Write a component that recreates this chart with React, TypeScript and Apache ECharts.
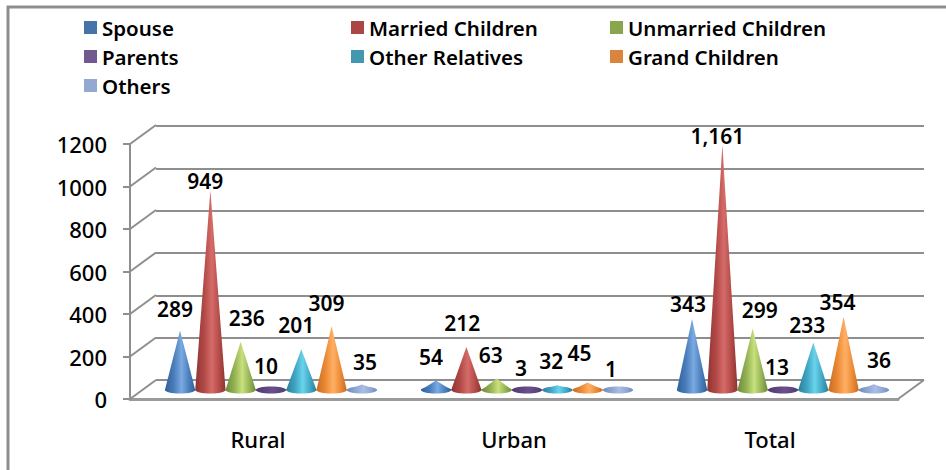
import React, { useEffect, useRef } from "react";
import * as echarts from "echarts";

const categories = ["Rural", "Urban", "Total"];
const seriesNames = ["Spouse", "Married Children", "Unmarried Children", "Parents", "Other Relatives", "Grand Children", "Others"];
const spouse = [289, 54, 343];
const marriedChildren = [949, 212, 1161];
const unmarriedChildren = [236, 63, 299];
const parents = [10, 3, 13];
const otherRelatives = [201, 32, 233];
const grandChildren = [309, 45, 354];
const others = [35, 1, 36];
const seriesValues = [spouse, marriedChildren, unmarriedChildren, parents, otherRelatives, grandChildren, others];
const valueTicks = [0, 200, 400, 600, 800, 1000, 1200];

const legendColors = ["#4674A8", "#AA4643", "#89A54E", "#71588F", "#4198AF", "#DB843D", "#93A9CF"];
const coneDark = ["#2F5F98", "#8E3331", "#6E8B3A", "#4F3A6E", "#2A7F98", "#C46D20", "#6F8ABB"];
const coneMid = ["#4A7EBB", "#B24A47", "#93B354", "#5E4580", "#40A6C4", "#EB8A35", "#8FA7D2"];
const coneLight = ["#7AAAE2", "#D66C69", "#C9E07E", "#6A4F8E", "#6AD3EC", "#FFB066", "#A9BEE4"];

// label nudges relative to each cone tip: [dx, dy], one row per series, one pair per category
const labelNudges: number[][][] = [
  [[-5, -22], [-5, -24], [-4, -15]],
  [[-5, -9], [-4, -24], [-5, -9]],
  [[6, -24], [-6, -24], [7, -18]],
  [[-5, -24], [-6, -23], [-6, -22]],
  [[-5, -24], [-6, -24], [-6, -17]],
  [[-5, -23], [-8, -29], [-6, -15]],
  [[3, -23], [-7, -23], [5, -24]],
];

const FONT = "'Noto Sans', sans-serif";
const DEPTH_X = 26;
const DEPTH_Y = 19;
const CONE_SHIFT_X = 13;
const CONE_SHIFT_Y = 7;

function formatValue(v: number) {
  return v.toLocaleString("en-US");
}

function coneRenderer(seriesIdx: number) {
  return (params: any, api: any) => {
    const cat = api.value(0);
    const val = api.value(1);
    const band = api.size([1, 0])[0];
    const step = band * 0.1184;
    const top = api.coord([cat, val]);
    const cx = top[0] + CONE_SHIFT_X + (seriesIdx - 3) * step;
    const tipY = top[1] - CONE_SHIFT_Y;
    const baseY = api.coord([cat, 0])[1] - CONE_SHIFT_Y - 2;
    const r = step * 0.5;
    const fill = new echarts.graphic.LinearGradient(0, 0, 1, 0, [
      { offset: 0, color: coneDark[seriesIdx] },
      { offset: 0.3, color: coneMid[seriesIdx] },
      { offset: 0.55, color: coneLight[seriesIdx] },
      { offset: 0.8, color: coneMid[seriesIdx] },
      { offset: 1, color: coneDark[seriesIdx] },
    ]);
    const [dx, dy] = labelNudges[seriesIdx][params.dataIndex];
    return {
      type: "group",
      children: [
        { type: "ellipse", shape: { cx, cy: baseY, rx: r, ry: 3.5 }, style: { fill } },
        {
          type: "polygon",
          shape: { points: [[cx, tipY], [cx + r, baseY], [cx - r, baseY]] },
          style: { fill },
        },
        {
          type: "text",
          z2: 50,
          style: {
            x: cx + dx,
            y: tipY + dy,
            text: formatValue(val),
            fill: "#000",
            font: `600 21px ${FONT}`,
            textAlign: "center",
            textVerticalAlign: "middle",
          },
        },
      ],
    };
  };
}

function wallRenderer(params: any, api: any) {
  const val = api.value(0);
  const band = api.size([1, 0])[0];
  const left = api.coord([0, val])[0] - band / 2;
  const y = api.coord([0, val])[1];
  const children: any[] = [
    {
      type: "line",
      shape: { x1: left, y1: y, x2: left + DEPTH_X, y2: y - DEPTH_Y },
      style: { stroke: "#8E8E8E", lineWidth: 2 },
    },
  ];
  if (val === 0) {
    const right = left + band * categories.length;
    children.push({
      type: "line",
      shape: { x1: right, y1: y, x2: right + DEPTH_X, y2: y - DEPTH_Y },
      style: { stroke: "#8E8E8E", lineWidth: 2 },
    });
  }
  return { type: "group", children };
}

const axisText = { color: "#000", fontFamily: FONT, fontSize: 22, fontWeight: 500 as any };
const legendText = { color: "#000", fontFamily: FONT, fontSize: 20.5, fontWeight: 600 as any, lineHeight: 20 };

function legendColumn(left: number, names: string[]) {
  return {
    left,
    top: 17,
    orient: "vertical" as const,
    icon: "rect",
    itemWidth: 13,
    itemHeight: 13,
    itemGap: 8,
    padding: 0,
    data: names,
    textStyle: legendText,
  };
}

export default function App() {
  const ref = useRef<HTMLDivElement>(null);
  useEffect(() => {
    const chart = echarts.init(ref.current!, undefined, { renderer: "svg" });
    chart.setOption({
      animation: false,
      backgroundColor: "#fff",
      legend: [
        legendColumn(84, [seriesNames[0], seriesNames[3], seriesNames[6]]),
        legendColumn(351, [seriesNames[1], seriesNames[4]]),
        legendColumn(610, [seriesNames[2], seriesNames[5]]),
      ],
      graphic: [
        {
          type: "polyline",
          silent: true,
          shape: { points: [[8, 470], [8, 7], [946, 7]] },
          style: { stroke: "#8E8E8E", lineWidth: 3, fill: "none" },
        },
      ],
      grid: [
        { left: 130, width: 768, top: 144, height: 255 },
        { left: 156, width: 768, top: 126, height: 254 },
      ],
      xAxis: [
        {
          type: "category",
          data: categories,
          gridIndex: 0,
          axisLine: { lineStyle: { color: "#9A9A9A", width: 3 } },
          axisTick: { length: 6, lineStyle: { color: "#8E8E8E", width: 2 } },
          axisLabel: { ...axisText, margin: 29 },
        },
        { type: "category", data: categories, gridIndex: 1, show: false },
      ],
      yAxis: [
        {
          type: "value",
          gridIndex: 0,
          min: 0,
          max: 1200,
          interval: 200,
          axisLine: { show: true, lineStyle: { color: "#8E8E8E", width: 2 } },
          axisTick: { show: true, length: 7, lineStyle: { color: "#8E8E8E", width: 2 } },
          axisLabel: {
            ...axisText,
            margin: 23,
            padding: [4, 0, 0, 0],
            formatter: (v: number) => String(v),
          },
          splitLine: { show: false },
        },
        {
          type: "value",
          gridIndex: 1,
          min: 0,
          max: 1200,
          interval: 200,
          axisLine: { show: false },
          axisTick: { show: false },
          axisLabel: { show: false },
          splitLine: { show: true, lineStyle: { color: "#8E8E8E", width: 2 } },
        },
      ],
      series: [
        {
          type: "custom",
          name: "walls",
          xAxisIndex: 0,
          yAxisIndex: 0,
          silent: true,
          z: 1,
          renderItem: wallRenderer,
          data: valueTicks.map((v) => [v]),
          encode: { y: 0 },
        },
        ...seriesNames.map((name, i) => ({
          type: "custom",
          name,
          xAxisIndex: 0,
          yAxisIndex: 0,
          z: 3,
          itemStyle: { color: legendColors[i] },
          renderItem: coneRenderer(i),
          data: seriesValues[i].map((v, c) => [c, v]),
          encode: { x: 0, y: 1 },
        })),
      ],
    });
    return () => chart.dispose();
  }, []);
  return <div ref={ref} style={{ position: "fixed", left: 0, top: 0, width: 946, height: 470 }} />;
}
